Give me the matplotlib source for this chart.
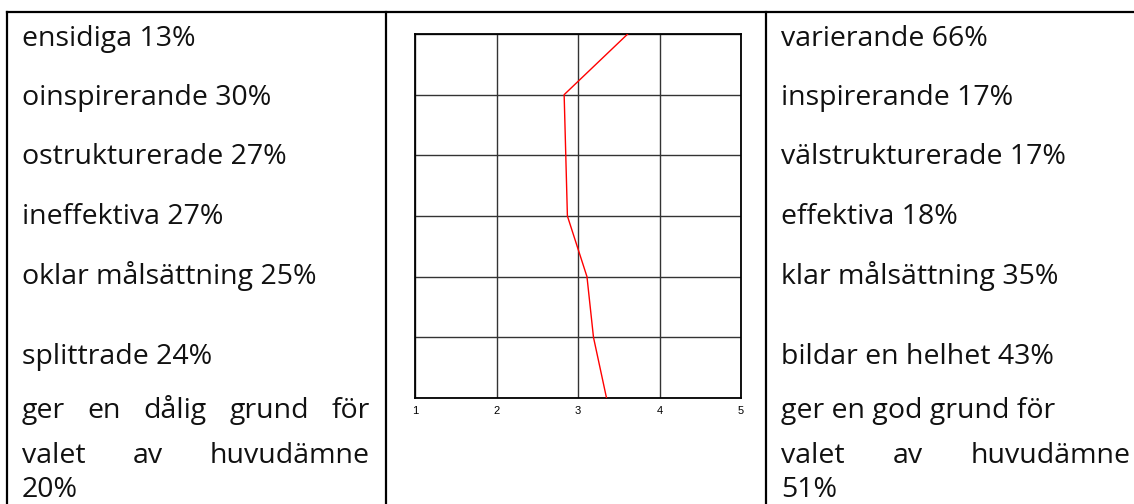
import matplotlib
matplotlib.use("Agg")
import matplotlib.pyplot as plt

# left column (negative adjectives), right column (positive), profile values
left_labels = ["ensidiga 13%", "oinspirerande 30%", "ostrukturerade 27%", "ineffektiva 27%",
               "oklar målsättning 25%", "splittrade 24%"]
left_last = ["ger en dålig grund för", "valet av huvudämne", "20%"]
right_labels = ["varierande 66%", "inspirerande 17%", "välstrukturerade 17%", "effektiva 18%",
                "klar målsättning 35%", "bildar en helhet 43%"]
right_last = ["ger en god grund för", "valet av huvudämne", "51%"]
profile = [3.61, 2.83, 2.85, 2.87, 3.11, 3.19, 3.35]
xticks = [1, 2, 3, 4, 5]

W, H = 1134, 504
fig = plt.figure(figsize=(W / 100, H / 100), dpi=100)

# background axes in pixel coordinates for the table
bg = fig.add_axes([0, 0, 1, 1])
bg.set_xlim(0, W)
bg.set_ylim(H, 0)
bg.axis("off")

lw = 1.6
bg.plot([7, W], [12, 12], color="black", lw=lw)
for xv in [7, 386, 766]:
    bg.plot([xv, xv], [12, H], color="black", lw=lw)

font = dict(family="Open Sans", fontsize=20.5, color="#111111")
baselines = [46, 105, 164, 224, 284, 364]
for y, lt, rt in zip(baselines, left_labels, right_labels):
    bg.text(22, y, lt, va="baseline", ha="left", **font)
    bg.text(781, y, rt, va="baseline", ha="left", **font)

renderer = fig.canvas.get_renderer()


def justify(line, x0, x1, y):
    words = line.split()
    objs = [bg.text(0, y, w, va="baseline", ha="left", **font) for w in words]
    widths = [t.get_window_extent(renderer).width for t in objs]
    gap = (x1 - x0 - sum(widths)) / (len(words) - 1)
    x = x0
    for t, w in zip(objs, widths):
        t.set_x(x)
        x += w + gap


justify(left_last[0], 22, 370, 418)
justify(left_last[1], 22, 370, 463)
bg.text(22, 497, left_last[2], va="baseline", ha="left", **font)

bg.text(781, 418, right_last[0], va="baseline", ha="left", **font)
justify(right_last[1], 781, 1131, 463)
bg.text(781, 497, right_last[2], va="baseline", ha="left", **font)

# the profile chart
ax = fig.add_axes([415 / W, (H - 398) / H, 326 / W, 364 / H])
rows = list(range(len(profile)))
ax.plot(profile, rows, color="red", lw=1.0, zorder=3)
ax.set_xlim(1, 5)
ax.set_ylim(len(profile) - 1, 0)
ax.set_xticks(xticks)
ax.set_xticklabels([str(v) for v in xticks], fontsize=8, family="Liberation Sans")
ax.set_yticks(rows)
ax.tick_params(axis="y", left=False, labelleft=False)
ax.tick_params(axis="x", length=0, pad=6)
ax.grid(True, color="#333333", lw=1.0)
for s in ax.spines.values():
    s.set_linewidth(1.3)
    s.set_color("black")

fig.savefig("out.png", dpi=100)
